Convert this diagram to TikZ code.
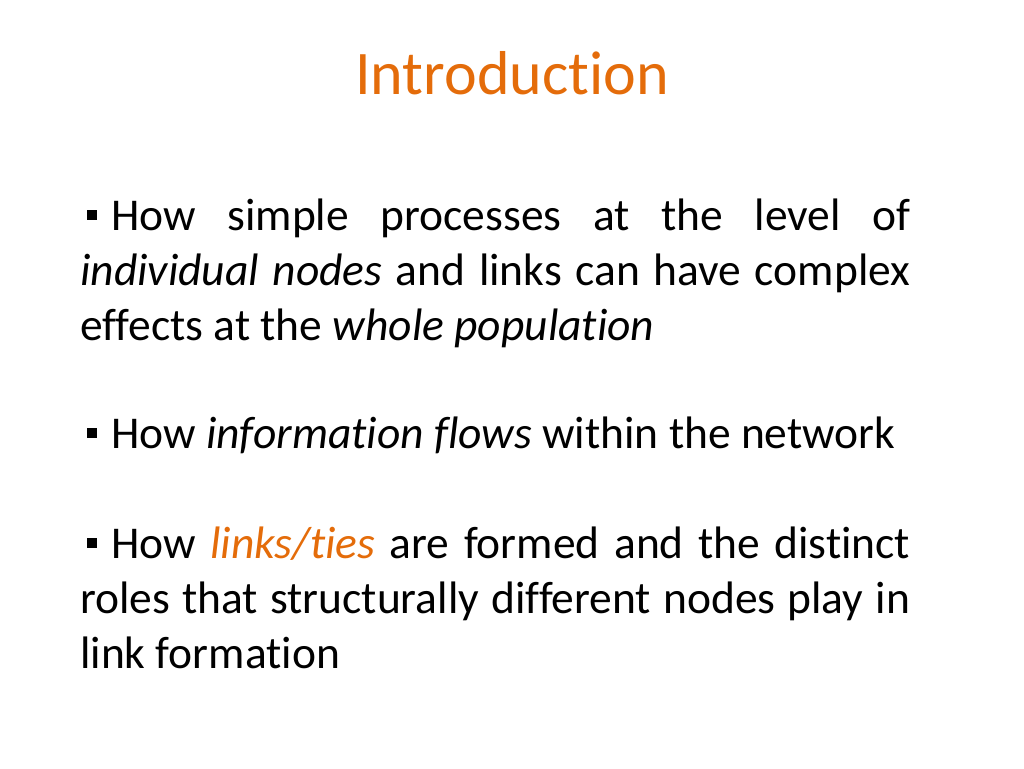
\documentclass[tikz,border=0pt]{standalone}
\usepackage{fontspec}
\setmainfont[RawFeature=-liga]{Carlito}
\definecolor{ttl}{HTML}{E46C0A}
\hyphenpenalty=10000
\exhyphenpenalty=10000
\newcommand{\sqb}{\hspace*{7pt}\makebox[24pt][l]{\raisebox{10pt}{\rule{10pt}{10pt}}}}
\tikzset{para/.style={anchor=base west,inner sep=0pt,text width=830pt,align=justify,font=\fontsize{45.5pt}{55pt}\selectfont}}
\begin{document}
\begin{tikzpicture}[x=1pt,y=-1pt]
\useasboundingbox (0,0) rectangle (1024,768);
\node[anchor=base,inner sep=0pt,text=ttl,font=\fontsize{62pt}{66pt}\selectfont] (t) at (512,94) {Introduction};
\node[para] (p1) at (80,230) {\sqb How simple processes at the level of\linebreak \textit{individual nodes} and links can have complex\linebreak effects at the \textit{whole population}\par};
\node[para] (p2) at (80,448) {\sqb How \textit{information flows} within the network\par};
\node[para] (p3) at (80,558) {\sqb How \textit{\textcolor{ttl}{links/ties}} are formed and the distinct\linebreak roles that structurally different nodes play in\linebreak link formation\par};
\end{tikzpicture}
\end{document}
